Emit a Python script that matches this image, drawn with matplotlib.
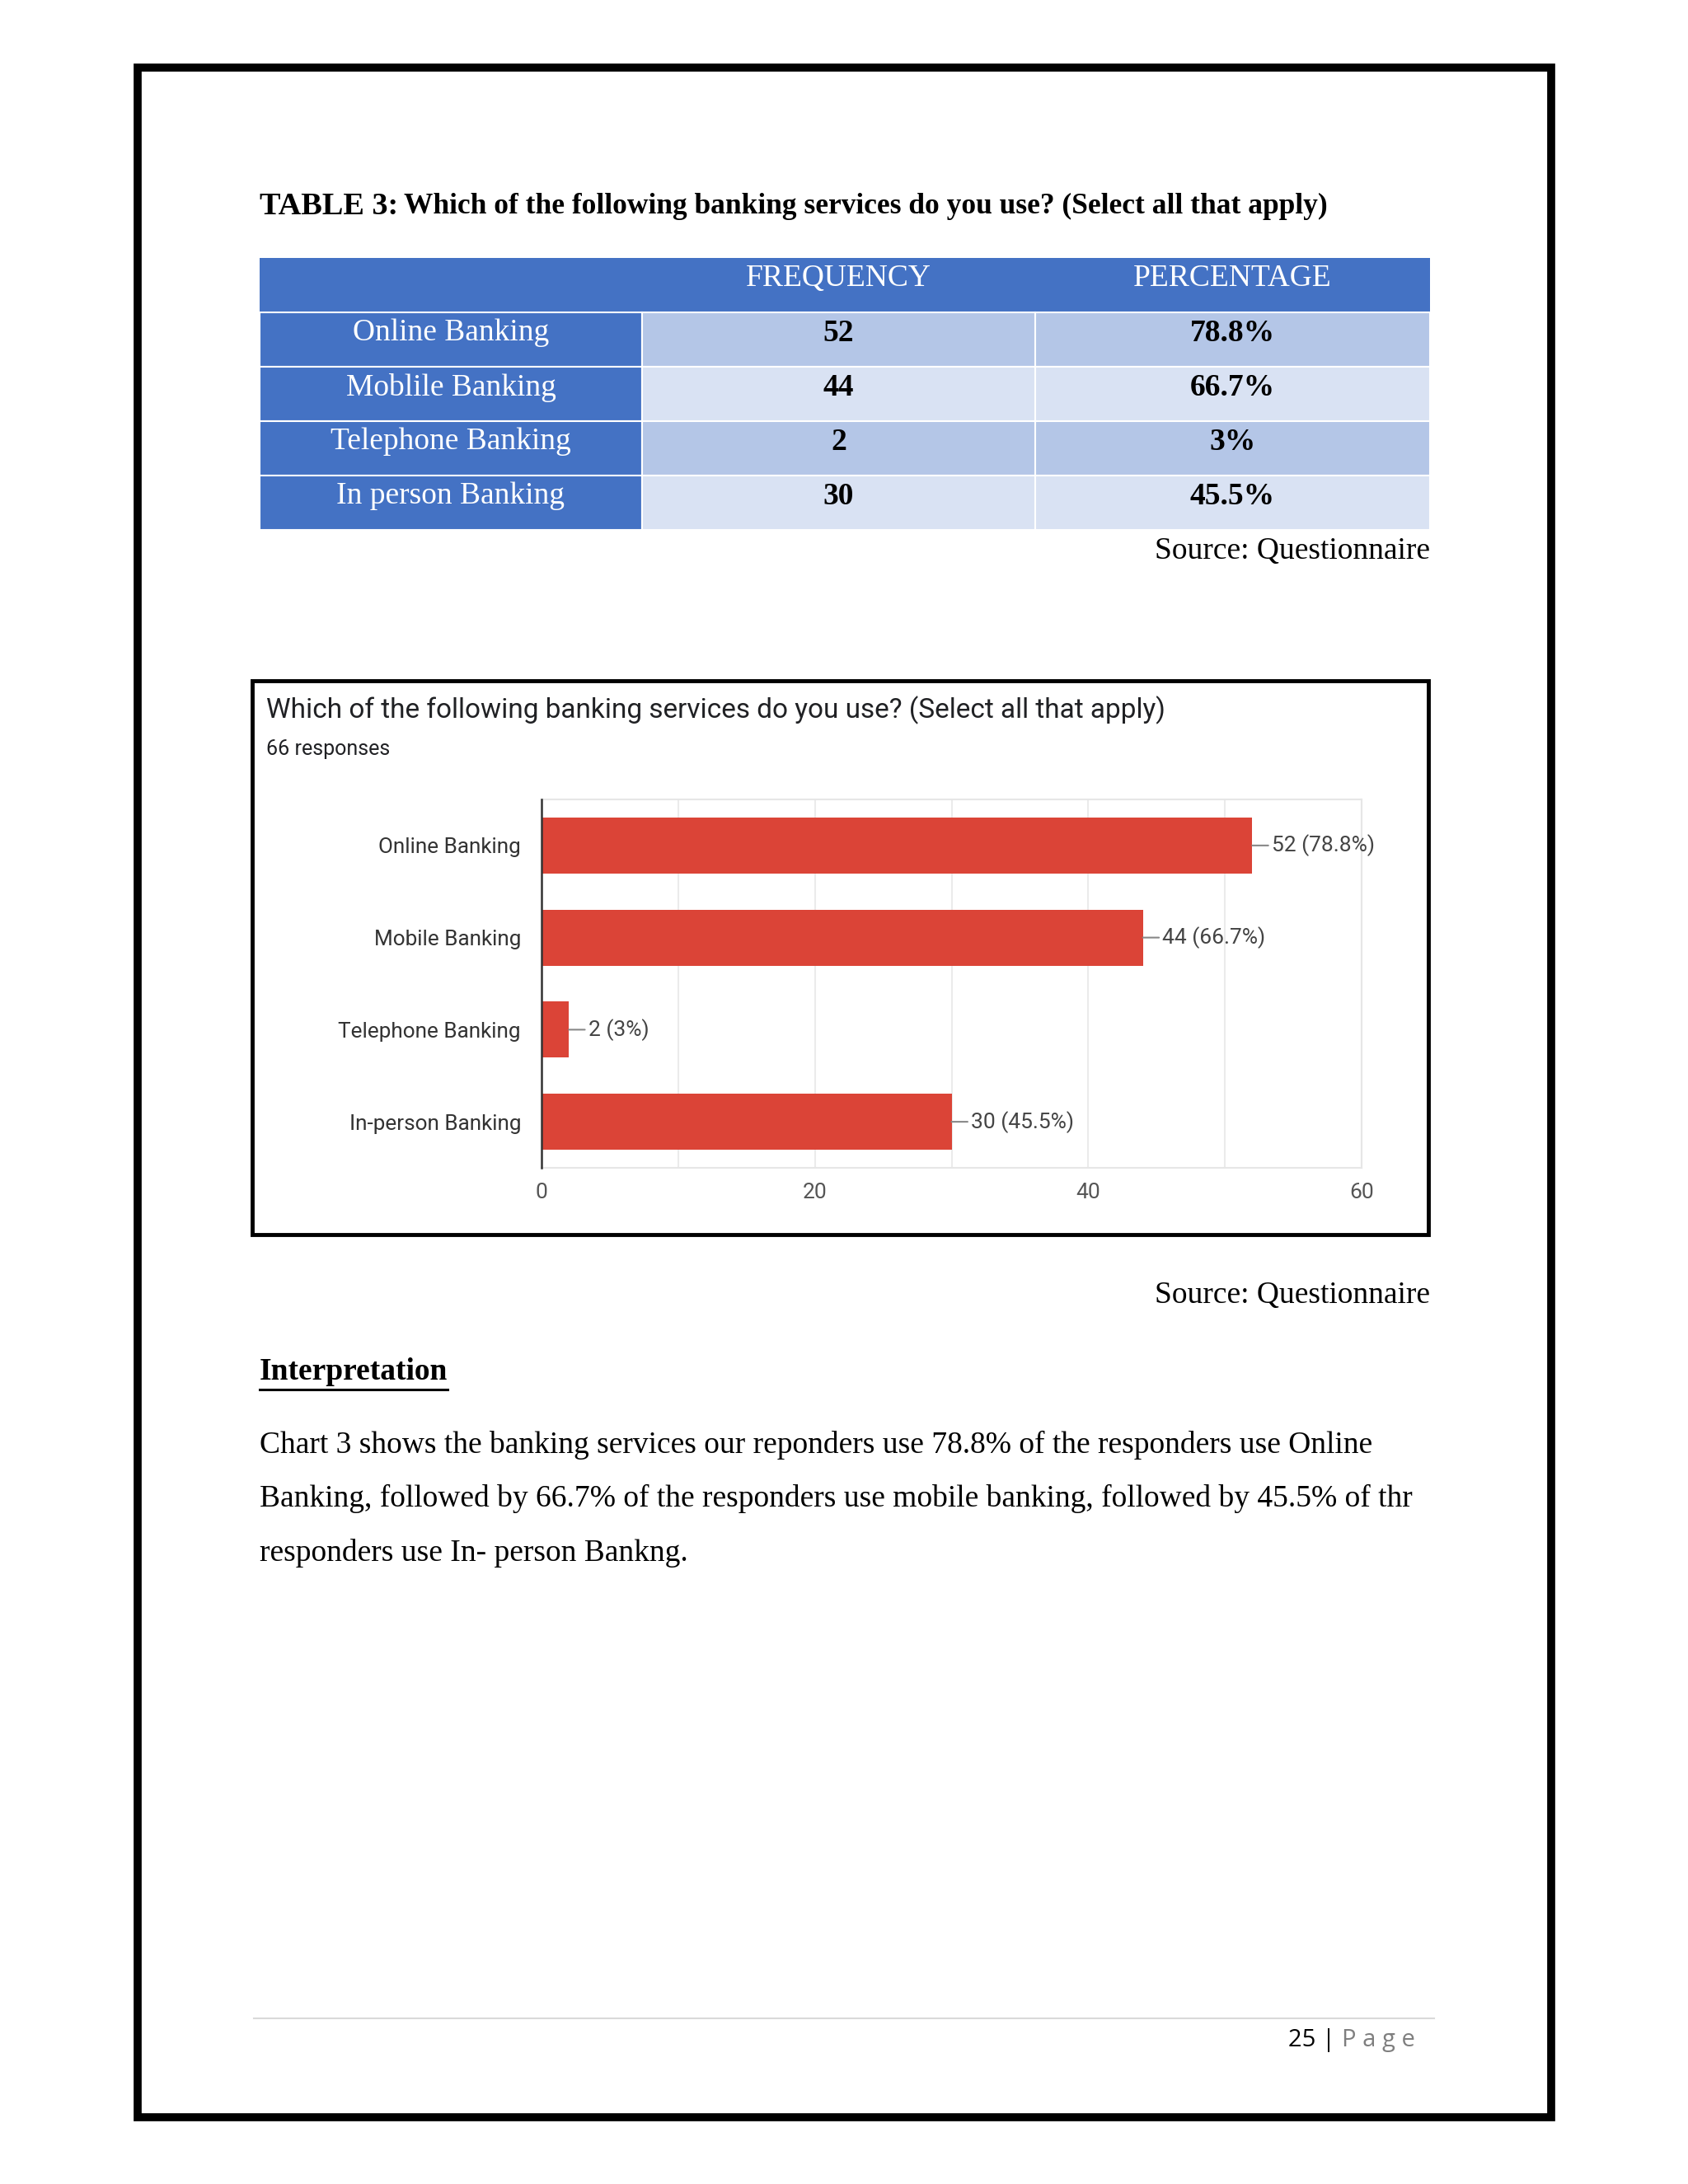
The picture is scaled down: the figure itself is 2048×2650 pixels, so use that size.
import matplotlib
matplotlib.use("Agg")
from matplotlib import pyplot as plt
from matplotlib.patches import Rectangle
from matplotlib.lines import Line2D

# data
table_rows = ["Online Banking", "Moblile Banking", "Telephone Banking", "In person Banking"]
table_header = ["", "FREQUENCY", "PERCENTAGE"]
frequency = [52, 44, 2, 30]
percentage = ["78.8%", "66.7%", "3%", "45.5%"]

chart_categories = ["Online Banking", "Mobile Banking", "Telephone Banking", "In-person Banking"]
chart_counts = [52, 44, 2, 30]
chart_pcts = ["78.8%", "66.7%", "3%", "45.5%"]
x_ticks = [0, 20, 40, 60]

W, H = 2048, 2650
SERIF = ["Liberation Serif", "DejaVu Serif"]
SANS = ["Roboto", "DejaVu Sans"]
BLUE = "#4472C4"
ROW_COLORS = ["#B4C6E7", "#D9E2F3"]
RED = "#DB4437"
BODY = 27


def fx(px):
    return px / W


def fy(py):
    return 1 - py / H


fig = plt.figure(figsize=(W / 100, H / 100), dpi=100)
fig.patch.set_facecolor("white")

# page border
fig.add_artist(Rectangle((fx(167), fy(2569)), fx(1882) - fx(167), fy(82) - fy(2569),
                         transform=fig.transFigure, fill=False, lw=7, ec="black"))

# table title
t = fig.text(fx(315), fy(250), "TABLE 3:", family=SERIF, weight="bold", size=27.5, va="center")
fig.canvas.draw()
bb = t.get_window_extent(fig.canvas.get_renderer())
fig.text(bb.x1 / W + fx(7), fy(250),
         "Which of the following banking services do you use? (Select all that apply)",
         family=SERIF, weight="bold", size=25.5, va="center")

# table
col_edges = [315, 779, 1256, 1735]
table_top, table_bot = 313, 643
tax = fig.add_axes([fx(315), fy(table_bot), fx(1735) - fx(315), fy(table_top) - fy(table_bot)])
tax.set_xlim(col_edges[0], col_edges[-1])
tax.set_ylim(len(table_rows) + 1, 0)
tax.axis("off")
for c in range(3):
    x0, x1 = col_edges[c], col_edges[c + 1]
    tax.add_patch(Rectangle((x0, 0), x1 - x0, 1, fc=BLUE, ec="none"))
    tax.text((x0 + x1) / 2, 0.38, table_header[c], ha="center", va="center",
             family=SERIF, size=BODY, color="white")
for i, name in enumerate(table_rows):
    y = i + 1
    tax.add_patch(Rectangle((col_edges[0], y), col_edges[1] - col_edges[0], 1, fc=BLUE, ec="white", lw=1.5))
    tax.text((col_edges[0] + col_edges[1]) / 2, y + 0.38, name, ha="center", va="center",
             family=SERIF, size=BODY, color="white")
    vals = [str(frequency[i]), percentage[i]]
    for c in (1, 2):
        x0, x1 = col_edges[c], col_edges[c + 1]
        tax.add_patch(Rectangle((x0, y), x1 - x0, 1, fc=ROW_COLORS[i % 2], ec="white", lw=1.5))
        tax.text((x0 + x1) / 2, y + 0.38, vals[c - 1], ha="center", va="center",
                 family=SERIF, size=BODY, weight="bold", color="black")

fig.text(fx(1735), fy(669), "Source: Questionnaire", family=SERIF, size=BODY, ha="right", va="center")

# chart box
fig.add_artist(Rectangle((fx(306), fy(1498)), fx(1733) - fx(306), fy(826) - fy(1498),
                         transform=fig.transFigure, fill=False, lw=3.5, ec="black"))
fig.text(fx(323), fy(862), "Which of the following banking services do you use? (Select all that apply)",
         family=SANS, size=24, color="#202124", va="center")
fig.text(fx(323), fy(909), "66 responses", family=SANS, size=18, color="#202124", va="center")

ax = fig.add_axes([fx(657), fy(1417), fx(1652) - fx(657), fy(970) - fy(1417)])
ypos = list(range(len(chart_categories)))
ax.barh(ypos, chart_counts, height=0.61, color=RED, zorder=3)
ax.set_ylim(len(chart_categories) - 0.5, -0.5)
ax.set_xlim(0, 60)
ax.set_xticks(x_ticks)
ax.set_xticks(range(0, 61, 10), minor=True)
ax.set_yticks(ypos)
ax.set_yticklabels(chart_categories, family=SANS, size=18.8, color="#333333")
ax.set_xticklabels([str(v) for v in x_ticks], family=SANS, size=19, color="#555555")
ax.tick_params(axis="both", which="both", length=0)
ax.tick_params(axis="y", pad=18)
ax.tick_params(axis="x", pad=13)
ax.grid(axis="x", which="both", color="#ebebeb", lw=1.5, zorder=0)
for s in ("top", "right", "bottom"):
    ax.spines[s].set_color("#e6e6e6")
    ax.spines[s].set_linewidth(1.5)
ax.spines["left"].set_color("#333333")
ax.spines["left"].set_linewidth(1.8)
ax.spines["left"].set_zorder(4)
for i, (v, p) in enumerate(zip(chart_counts, chart_pcts)):
    ax.annotate(f"{v} ({p})", xy=(v, i), xytext=(17, 0), textcoords="offset points",
                ha="left", va="center", family=SANS, size=19, color="#444444",
                arrowprops=dict(arrowstyle="-", color="#888888", lw=1.5, shrinkA=1, shrinkB=0))

fig.text(fx(1735), fy(1572), "Source: Questionnaire", family=SERIF, size=BODY, ha="right", va="center")

# interpretation
it = fig.text(fx(315), fy(1664), "Interpretation", family=SERIF, size=BODY, weight="bold", va="center")
fig.canvas.draw()
bb = it.get_window_extent(fig.canvas.get_renderer())
fig.add_artist(Line2D([bb.x0 / W, bb.x1 / W], [fy(1686), fy(1686)], transform=fig.transFigure,
                      color="black", lw=2.2))

body = [
    "Chart 3 shows the banking services our reponders use 78.8% of the responders use Online",
    "Banking, followed by 66.7% of the responders use mobile banking, followed by 45.5% of thr",
    "responders use In- person Bankng.",
]
for k, line in enumerate(body):
    fig.text(fx(315), fy(1753 + 65.5 * k), line, family=SERIF, size=BODY, va="center")

# footer
fig.add_artist(Line2D([fx(308), fx(1740)], [fy(2449), fy(2449)], transform=fig.transFigure,
                      color="#d9d9d9", lw=1.5))
pg = fig.text(fx(1563), fy(2476), "25 | ", family=["Open Sans", "DejaVu Sans"], size=21, va="center")
fig.canvas.draw()
bb = pg.get_window_extent(fig.canvas.get_renderer())
fig.text(bb.x1 / W, fy(2476), "P a g e", family=["Open Sans", "DejaVu Sans"], size=21,
         color="#7f7f7f", va="center")

fig.savefig("out.png", dpi=100)
